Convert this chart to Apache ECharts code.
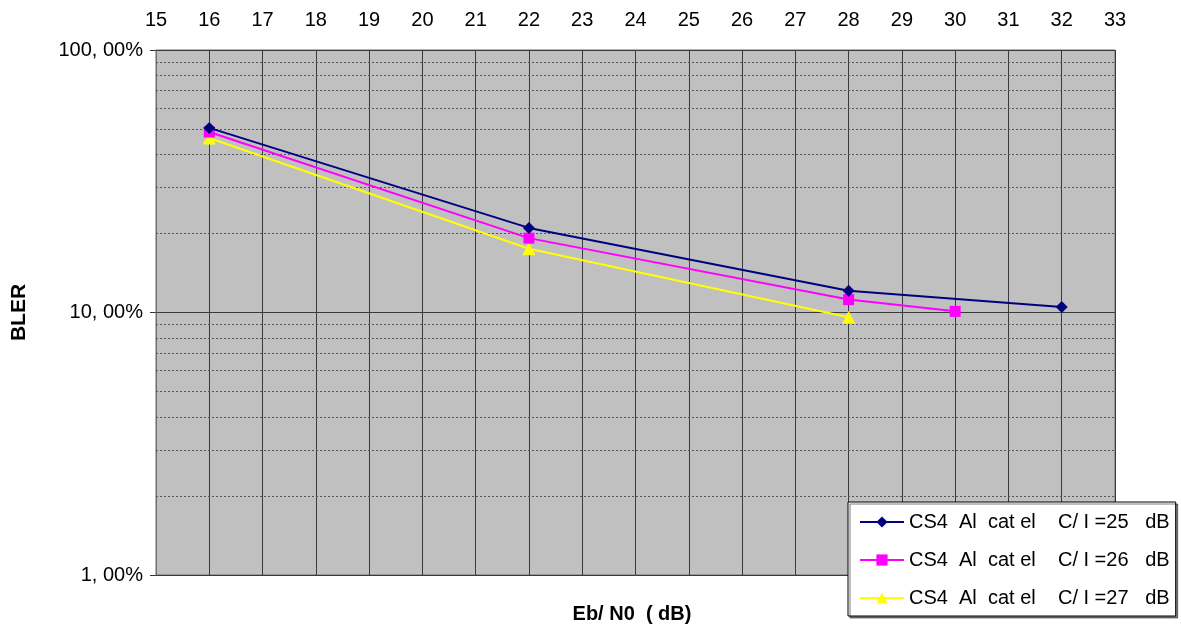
<!DOCTYPE html>
<html><head><meta charset="utf-8">
<script src="https://cdn.jsdelivr.net/npm/echarts@6/dist/echarts.min.js"></script>
<style>html,body{margin:0;padding:0;background:#fff}#c{width:1181px;height:628px}</style>
</head><body><div id="c"></div>
<script>
const xTicks = [15,16,17,18,19,20,21,22,23,24,25,26,27,28,29,30,31,32,33];
const seriesNames = ['CS4  Al  cat el    C/ I =25   dB','CS4  Al  cat el    C/ I =26   dB','CS4  Al  cat el    C/ I =27   dB'];
const s25x = [16,22,28,32];
const s25y = [50.5,21.0,12.1,10.5];
const s26x = [16,22,28,30];
const s26y = [48.7,19.2,11.2,10.1];
const s27x = [16,22,28];
const s27y = [46.2,17.5,9.6];
const minorGrid = [2,3,4,5,6,7,8,9,20,30,40,50,60,70,80,90];
const yTickValues = [1,10,100];

const font = 'Liberation Sans, Arial, sans-serif';
const chart = echarts.init(document.getElementById('c'), null, {renderer:'canvas'});
function pairs(xs, ys){ return xs.map((x,i)=>[x, ys[i]]); }
const colors = ['#000080','#FF00FF','#FFFF00'];
const symbols = ['diamond','rect','triangle'];
const sizes = [12,11,13];
const datas = [pairs(s25x,s25y), pairs(s26x,s26y), pairs(s27x,s27y)];
const series = datas.map((d,i)=>({
  name: seriesNames[i], type:'line', data:d, symbol:symbols[i], symbolSize:sizes[i],
  showSymbol:true, z: 10-i,
  lineStyle:{color:colors[i], width:2}, itemStyle:{color:colors[i]},
  emphasis:{disabled:true}, animation:false
}));
series.push({
  type:'line', data:[], silent:true, z:1,
  markLine:{symbol:['none','none'], silent:true, animation:false, label:{show:false},
    lineStyle:{type:[2,2], color:'#555', width:1},
    data: minorGrid.map(v=>({yAxis:v}))}
});
chart.setOption({
  backgroundColor:'#fff',
  animation:false,
  grid:{left:156, top:50, right:66, bottom:53, show:true, backgroundColor:'#C0C0C0', borderColor:'#6e6e6e', borderWidth:1},
  xAxis:{type:'value', position:'top', min:15, max:33, interval:1,
    axisLine:{show:false}, axisTick:{show:false},
    axisLabel:{fontSize:20, color:'#000', fontFamily:font, margin:20},
    splitLine:{show:true, lineStyle:{color:'#3a3a3a', width:1}}},
  yAxis:{type:'log', logBase:10, min:1, max:100,
    name:'BLER', nameLocation:'middle', nameGap:126, nameRotate:90,
    nameTextStyle:{fontSize:21, fontWeight:'bold', fontFamily:font, color:'#000'},
    axisLine:{show:true, lineStyle:{color:'#6e6e6e'}},
    axisTick:{show:true, length:6, inside:false, lineStyle:{color:'#333'}},
    axisLabel:{fontSize:20, color:'#000', fontFamily:font, margin:13,
      formatter: v => (yTickValues.indexOf(Math.round(v))>=0 ? Math.round(v)+', 00%' : '')},
    splitLine:{show:true, lineStyle:{color:'#3a3a3a', width:1}},
    minorTick:{show:false}, minorSplitLine:{show:false}},
  legend:{orient:'vertical', left:848, top:502,
    data: seriesNames,
    backgroundColor:'#fff', borderColor:'#000', borderWidth:1,
    shadowColor:'rgba(0,0,0,0.5)', shadowOffsetX:2, shadowOffsetY:2,
    padding:[10,6,8,11], itemGap:18, itemWidth:44, itemHeight:14,
    textStyle:{fontSize:20, fontFamily:font, color:'#000', lineHeight:20},
    selectedMode:false},
  graphic:[{type:'text', x:632, y:614, style:{text:'Eb/ N0  ( dB)', font:'bold 20px '+font, fill:'#000', align:'center', verticalAlign:'middle'}}],
  series: series
});
</script></body></html>
